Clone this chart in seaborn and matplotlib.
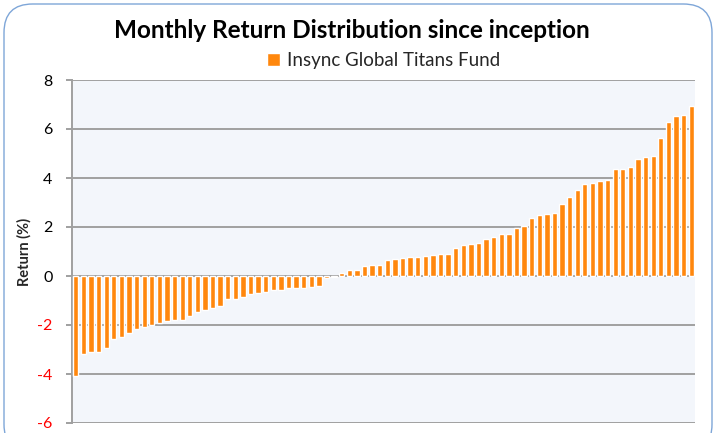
import matplotlib
matplotlib.use("Agg")
import matplotlib.pyplot as plt
import seaborn as sns
import pandas as pd
from matplotlib.patches import FancyBboxPatch

title = "Monthly Return Distribution since inception"
series_name = "Insync Global Titans Fund"
y_label = "Return (%)"
y_ticks = [-6, -4, -2, 0, 2, 4, 6, 8]
y_tick_labels = ["-6", "-4", "-2", "0", "2", "4", "6", "8"]

returns = [
    -4.10, -3.18, -3.12, -3.12, -2.95, -2.57, -2.51, -2.34, -2.17, -2.07,
    -2.01, -1.90, -1.84, -1.79, -1.78, -1.62, -1.46, -1.39, -1.30, -1.23,
    -0.95, -0.94, -0.86, -0.75, -0.69, -0.64, -0.57, -0.56, -0.48, -0.47,
    -0.47, -0.46, -0.42, -0.09, -0.03, 0.13, 0.24, 0.25, 0.40, 0.45,
    0.46, 0.67, 0.68, 0.73, 0.77, 0.78, 0.83, 0.84, 0.89, 0.90,
    1.16, 1.27, 1.32, 1.33, 1.49, 1.60, 1.71, 1.72, 1.97, 2.03,
    2.36, 2.48, 2.53, 2.58, 2.92, 3.24, 3.52, 3.74, 3.81, 3.86,
    3.92, 4.35, 4.36, 4.46, 4.79, 4.84, 4.90, 5.62, 6.29, 6.52,
    6.57, 6.95,
]
months = list(range(1, len(returns) + 1))

df = pd.DataFrame({"month": months, "ret": returns})

sns.set_theme(style="white")
plt.rcParams["font.family"] = ["Lato", "DejaVu Sans"]

fig = plt.figure(figsize=(7.16, 4.33), dpi=100)
ax = fig.add_axes([72 / 716, 10 / 433, 623 / 716, 343 / 433])
ax.set_facecolor("#F3F6FB")

bar_color = "#FF870D"
sns.barplot(data=df, x="month", y="ret", color=bar_color, width=0.7,
            saturation=1, ax=ax, label=series_name, zorder=3)

ax.set_ylim(-6, 8)
ax.set_yticks(y_ticks)
ax.set_yticklabels(y_tick_labels, fontsize=11.5)
for lbl, v in zip(ax.get_yticklabels(), y_ticks):
    lbl.set_color("#FF0000" if v < 0 else "black")
ax.set_xticks([])
ax.set_xlabel("")
ax.set_ylabel(y_label, fontsize=10.5, fontweight="bold", labelpad=4)

ax.grid(axis="y", color="#A0A0A0", linewidth=1.4, zorder=0)
ax.set_axisbelow(True)
for s in ["top", "right", "bottom"]:
    ax.spines[s].set_visible(False)
ax.spines["left"].set_color("#A0A0A0")
ax.spines["left"].set_linewidth(1.4)
ax.tick_params(axis="y", which="major", length=4, width=1.4, color="#A0A0A0",
               left=True, pad=10)

# legend
leg = ax.legend(loc="lower center", bbox_to_anchor=(0.5, 1.0), frameon=False,
                fontsize=13.5, handlelength=0.7, handleheight=0.7,
                handletextpad=0.4, borderaxespad=0.2)

fig.text(0.492, 0.93, title, ha="center", va="center", fontsize=17.5,
         fontweight="bold", color="black")

border = FancyBboxPatch((4 / 716, -20 / 433), 708 / 716, 449 / 433,
                        boxstyle="round,pad=0,rounding_size=0.04",
                        transform=fig.transFigure, facecolor="none",
                        edgecolor="#7EA6D8", linewidth=1.0, zorder=0,
                        mutation_aspect=716 / 433)
fig.patches.append(border)

fig.savefig("out.png", dpi=100)
